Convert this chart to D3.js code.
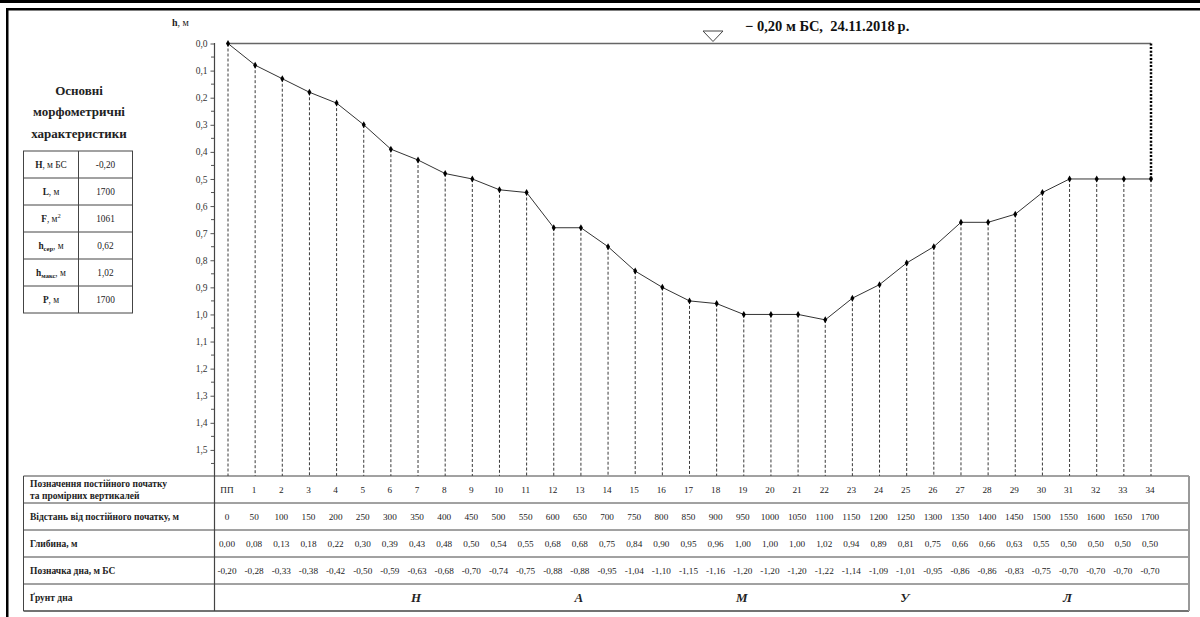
<!DOCTYPE html>
<html>
<head>
<meta charset="utf-8">
<script src="https://cdn.jsdelivr.net/npm/d3@7"></script>
<style>
  html, body { margin: 0; padding: 0; background: #fff; }
  svg { display: block; font-family: "Liberation Serif", "DejaVu Serif", serif; }
</style>
</head>
<body>
<svg id="chart" width="1200" height="617"></svg>
<script>
// Поперечний профіль: промірні вертикалі, відстані, глибини, позначки дна
const verticals = ["ПП","1","2","3","4","5","6","7","8","9","10","11","12","13","14","15","16","17",
  "18","19","20","21","22","23","24","25","26","27","28","29","30","31","32","33","34"];
const distances = [0,50,100,150,200,250,300,350,400,450,500,550,600,650,700,750,800,850,900,950,
  1000,1050,1100,1150,1200,1250,1300,1350,1400,1450,1500,1550,1600,1650,1700];
const depths = [0.00,0.08,0.13,0.18,0.22,0.30,0.39,0.43,0.48,0.50,0.54,0.55,0.68,0.68,0.75,0.84,
  0.90,0.95,0.96,1.00,1.00,1.00,1.02,0.94,0.89,0.81,0.75,0.66,0.66,0.63,0.55,0.50,0.50,0.50,0.50];
const bedLevels = [-0.20,-0.28,-0.33,-0.38,-0.42,-0.50,-0.59,-0.63,-0.68,-0.70,-0.74,-0.75,-0.88,
  -0.88,-0.95,-1.04,-1.10,-1.15,-1.16,-1.20,-1.20,-1.20,-1.22,-1.14,-1.09,-1.01,-0.95,-0.86,-0.86,
  -0.83,-0.75,-0.70,-0.70,-0.70,-0.70];
const soilLetters = ["Н","А","М","У","Л"];
const soilAt = [350,650,950,1250,1550];
const yTicks = [0,0.1,0.2,0.3,0.4,0.5,0.6,0.7,0.8,0.9,1.0,1.1,1.2,1.3,1.4,1.5];
const yMinorTicks = [0.05,0.15,0.25,0.35,0.45,0.55,0.65,0.75,0.85,0.95,1.05,1.15,1.25,1.35,1.45,1.55];

// Основні морфометричні характеристики
const morphoNames = ["H", "L", "F", "h", "h", "P"];
const morphoSubs = ["", "", "", "сер", "макс", ""];
const morphoUnits = [", м БС", ", м", ", м", ", м", ", м", ", м"];
const morphoValues = ["-0,20", "1700", "1061", "0,62", "1,02", "1700"];

const waterLevelCaption = "− 0,20 м БС,\u00A0\u00A024.11.2018\u2009р.";
const rowTitles = [["Позначення постійного початку", "та промірних вертикалей"],
  ["Відстань від постійного початку, м"], ["Глибина, м"], ["Позначка дна, м БС"], ["Ґрунт дна"]];

const svg = d3.select("#chart");
const comma = v => v.toFixed(2).replace(".", ",");

const x = d3.scaleLinear().domain([0, 1700]).range([228, 1151]);
const y = d3.scaleLinear().domain([0, 1.6]).range([43.5, 477]);

// рамка
svg.append("rect").attr("x", 0).attr("y", 0).attr("width", 1200).attr("height", 3).attr("fill", "#000");
svg.append("rect").attr("x", 6).attr("y", 8).attr("width", 1194).attr("height", 2.5).attr("fill", "#000");
svg.append("rect").attr("x", 6).attr("y", 8).attr("width", 2.5).attr("height", 609).attr("fill", "#000");

// вертикалі (пунктир)
svg.append("g").selectAll("line").data(distances).join("line")
  .attr("x1", d => x(d)).attr("x2", d => x(d))
  .attr("y1", (d, i) => y(depths[i])).attr("y2", 476)
  .attr("stroke", "#3a3a3a").attr("stroke-width", 1).attr("stroke-dasharray", "3,2");

// рівень води
svg.append("line").attr("x1", x(0)).attr("x2", x(1700)).attr("y1", y(0)).attr("y2", y(0))
  .attr("stroke", "#666").attr("stroke-width", 1.3);
svg.append("line").attr("x1", x(1700)).attr("x2", x(1700))
  .attr("y1", y(0)).attr("y2", y(depths[depths.length - 1]))
  .attr("stroke", "#000").attr("stroke-width", 2.5).attr("stroke-dasharray", "2,1.6");

// позначка рівня
svg.append("path").attr("d", "M703,31 L723,31 L713,41.5 Z")
  .attr("fill", "#fff").attr("stroke", "#444").attr("stroke-width", 1);
svg.append("text").attr("x", 745).attr("y", 31).attr("font-size", 14.5).attr("font-weight", "bold")
  .attr("fill", "#111").text(waterLevelCaption);

// профіль дна
const line = d3.line().x((d, i) => x(distances[i])).y(d => y(d));
svg.append("path").datum(depths).attr("d", line).attr("fill", "none")
  .attr("stroke", "#333").attr("stroke-width", 1);
svg.append("g").selectAll("path").data(depths).join("path")
  .attr("transform", (d, i) => `translate(${x(distances[i])},${y(d)})`)
  .attr("d", d3.symbol().type(d3.symbolDiamond).size(14)).attr("fill", "#000");

// вісь глибин
const axis = d3.axisLeft(y).tickValues(yTicks).tickSize(4).tickPadding(3)
  .tickFormat(d => d.toFixed(1).replace(".", ","));
const gAxis = svg.append("g").attr("transform", "translate(214.5,0)").call(axis);
gAxis.select(".domain").remove();
gAxis.selectAll(".tick line").attr("stroke", "#555");
gAxis.selectAll(".tick text").attr("font-family", "Liberation Serif").attr("font-size", 9.5).attr("fill", "#333");
svg.append("g").selectAll("line").data(yMinorTicks).join("line")
  .attr("x1", 211).attr("x2", 214.5).attr("y1", d => y(d)).attr("y2", d => y(d))
  .attr("stroke", "#555");
svg.append("line").attr("x1", 214.5).attr("x2", 214.5).attr("y1", y(0) - 0.5).attr("y2", 611)
  .attr("stroke", "#444").attr("stroke-width", 1.2);

const hLabel = svg.append("text").attr("x", 172).attr("y", 26).attr("font-size", 10).attr("fill", "#222");
hLabel.append("tspan").attr("font-weight", "bold").text("h");
hLabel.append("tspan").text(", м");

// блок характеристик
const titleLines = ["Основні", "морфометричні", "характеристики"];
svg.append("g").selectAll("text").data(titleLines).join("text")
  .attr("x", 79).attr("y", (d, i) => 95 + i * 21.3).attr("text-anchor", "middle")
  .attr("font-size", 13).attr("font-weight", "bold").attr("fill", "#222").text(d => d);

const mt = { x0: 23.5, x1: 78.5, x2: 132.5, y0: 151, rh: 27 };
const gm = svg.append("g");
gm.append("rect").attr("x", mt.x0).attr("y", mt.y0).attr("width", mt.x2 - mt.x0)
  .attr("height", mt.rh * 6).attr("fill", "none").attr("stroke", "#444");
gm.append("line").attr("x1", mt.x1).attr("x2", mt.x1).attr("y1", mt.y0).attr("y2", mt.y0 + mt.rh * 6)
  .attr("stroke", "#444");
gm.selectAll("line.r").data(d3.range(1, 6)).join("line").attr("class", "r")
  .attr("x1", mt.x0).attr("x2", mt.x2).attr("y1", i => mt.y0 + i * mt.rh).attr("y2", i => mt.y0 + i * mt.rh)
  .attr("stroke", "#444");
morphoNames.forEach((n, i) => {
  const cy = mt.y0 + i * mt.rh + mt.rh / 2 + 3.2;
  const t = gm.append("text").attr("x", (mt.x0 + mt.x1) / 2).attr("y", cy).attr("text-anchor", "middle")
    .attr("font-size", 9.3).attr("fill", "#222");
  t.append("tspan").attr("font-weight", "bold").text(n);
  if (morphoSubs[i]) {
    t.append("tspan").attr("font-weight", "bold").attr("font-size", 6.5).attr("dy", 2).text(morphoSubs[i]);
    t.append("tspan").attr("dy", -2).text(morphoUnits[i]);
  } else if (i === 2) {
    t.append("tspan").text(morphoUnits[i]);
    t.append("tspan").attr("font-size", 6.5).attr("dy", -4).text("2");
  } else {
    t.append("tspan").text(morphoUnits[i]);
  }
  gm.append("text").attr("x", (mt.x1 + mt.x2) / 2).attr("y", cy).attr("text-anchor", "middle")
    .attr("font-size", 9.3).attr("fill", "#222").text(morphoValues[i]);
});

// нижня таблиця
const bt = { x0: 23.5, xd: 214.5, x1: 1189, y0: 476, rh: 27 };
const gb = svg.append("g");
gb.append("line").attr("x1", bt.x0).attr("x2", bt.x1).attr("y1", bt.y0).attr("y2", bt.y0).attr("stroke", "#444");
gb.selectAll("line.r").data(d3.range(1, 6)).join("line").attr("class", "r")
  .attr("x1", bt.x0).attr("x2", bt.x1).attr("y1", i => bt.y0 + i * bt.rh).attr("y2", i => bt.y0 + i * bt.rh)
  .attr("stroke", "#444").attr("stroke-width", i => i === 5 ? 1.3 : 1);
gb.append("line").attr("x1", bt.x0).attr("x2", bt.x0).attr("y1", bt.y0).attr("y2", bt.y0 + 5 * bt.rh)
  .attr("stroke", "#444");
gb.append("line").attr("x1", bt.x1).attr("x2", bt.x1).attr("y1", bt.y0).attr("y2", bt.y0 + 5 * bt.rh)
  .attr("stroke", "#999").attr("stroke-width", 2);

rowTitles.forEach((lines, r) => {
  const cy = bt.y0 + r * bt.rh + bt.rh / 2;
  lines.forEach((s, k) => {
    gb.append("text").attr("x", 30)
      .attr("y", cy + 3.3 + (lines.length === 2 ? (k === 0 ? -5.5 : 6) : 0))
      .attr("font-size", 9.5).attr("font-weight", "bold").attr("fill", "#222").text(s);
  });
});

const rowsData = [verticals, distances.map(String), depths.map(comma), bedLevels.map(comma)];
rowsData.forEach((vals, r) => {
  const cy = bt.y0 + r * bt.rh + bt.rh / 2 + 3.2;
  gb.append("g").selectAll("text").data(vals).join("text")
    .attr("x", (d, i) => x(distances[i]) - 1).attr("y", cy).attr("text-anchor", "middle")
    .attr("font-size", 9.2).attr("fill", "#222").text(d => d);
});

gb.append("g").selectAll("text").data(soilLetters).join("text")
  .attr("x", (d, i) => x(soilAt[i]) - 2).attr("y", bt.y0 + 4 * bt.rh + bt.rh / 2 + 4.5)
  .attr("text-anchor", "middle").attr("font-size", 13).attr("font-weight", "bold")
  .attr("font-style", "italic").attr("fill", "#222").text(d => d);
</script>
</body>
</html>
